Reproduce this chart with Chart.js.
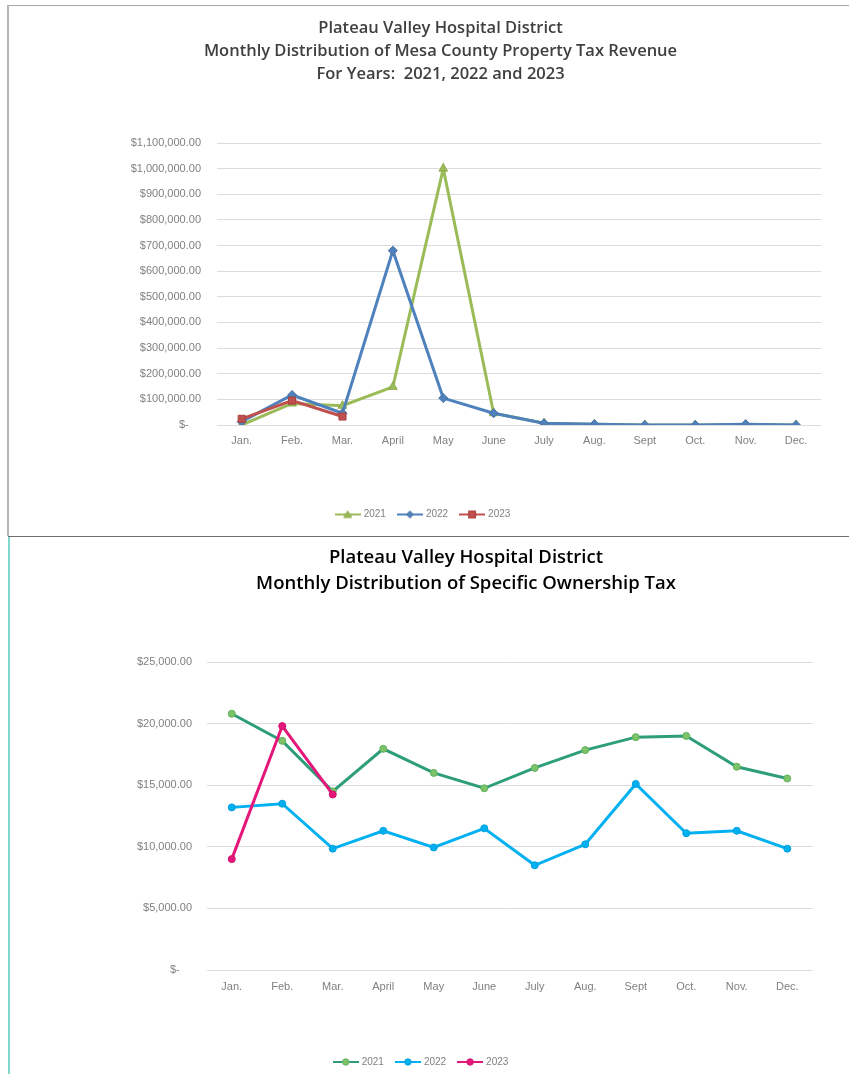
<!DOCTYPE html>
<html>
<head>
<meta charset="utf-8">
<title>Plateau Valley Hospital District - Tax Revenue</title>
<script src="https://cdn.jsdelivr.net/npm/chart.js@4.4.1/dist/chart.umd.min.js"></script>
<style>
  html, body { margin: 0; padding: 0; background: #fff; overflow: hidden; }
  body { width: 849px; height: 1074px; position: relative; }
  canvas { position: absolute; left: 0; }
  #topChart { top: 0; }
  #botChart { top: 537px; }
  .edge { position: absolute; }
  #topBorderTop { left: 8px; top: 5px; width: 841px; height: 1px; background: #a6a6a6; }
  #topBorderLeft { left: 7px; top: 5px; width: 2px; height: 531px; background: #b5b5b5; }
  #midLine { left: 8px; top: 536px; width: 841px; height: 1px; background: #6e6e6e; }
  #botBorderLeft { left: 8px; top: 537px; width: 2px; height: 537px; background: #7fd8cc; }
</style>
</head>
<body>
<div class="edge" id="topBorderTop"></div>
<div class="edge" id="topBorderLeft"></div>
<div class="edge" id="midLine"></div>
<div class="edge" id="botBorderLeft"></div>
<canvas id="topChart" width="849" height="536"></canvas>
<canvas id="botChart" width="849" height="540"></canvas>
<script>
// Data
const months = ['Jan.', 'Feb.', 'Mar.', 'April', 'May', 'June', 'July', 'Aug.', 'Sept', 'Oct.', 'Nov.', 'Dec.'];
const years = ['2021', '2022', '2023'];

// Mesa County property tax revenue
const property2021 = [0, 84000, 75000, 149000, 1000000, 46000, 7000, 3000, 0, 0, 1000, 0];
const property2022 = [13000, 117000, 46000, 680000, 105000, 46000, 7000, 3000, 0, 0, 3000, 0];
const property2023 = [24000, 95000, 33000];
const propertyTicks = { max: 1100000, step: 100000 };

// Specific ownership tax
const ownership2021 = [20800, 18600, 14500, 17950, 16000, 14750, 16400, 17850, 18900, 19000, 16500, 15550];
const ownership2022 = [13200, 13500, 9850, 11300, 9950, 11500, 8500, 10200, 15100, 11100, 11300, 9850];
const ownership2023 = [9000, 19800, 14250];
const ownershipTicks = { max: 25000, step: 5000 };

const tickFont = { family: 'Liberation Sans', size: 11 };
const tickColor = '#808080';
const gridColor = '#dcdcdc';
const legendFontSize = 10;
const legendPad = 13;

function money(v) {
    if (v === 0) return '$-    ';
    return '$' + Number(v).toLocaleString('en-US', { minimumFractionDigits: 2, maximumFractionDigits: 2 });
}

// small line + marker picture for the legend
function legendIcon(line, fill, stroke, shape) {
    const c = document.createElement('canvas');
    c.width = 26; c.height = 10;
    const g = c.getContext('2d');
    g.strokeStyle = line;
    g.lineWidth = 2;
    g.beginPath(); g.moveTo(0, 5); g.lineTo(26, 5); g.stroke();
    g.fillStyle = fill;
    g.strokeStyle = stroke;
    g.lineWidth = 1;
    g.beginPath();
    if (shape === 'triangle') {
        g.moveTo(13, 1.5); g.lineTo(17, 8); g.lineTo(9, 8); g.closePath();
    } else if (shape === 'rectRot') {
        g.moveTo(13, 1.5); g.lineTo(16.5, 5); g.lineTo(13, 8.5); g.lineTo(9.5, 5); g.closePath();
    } else if (shape === 'rect') {
        g.rect(9.5, 1.5, 7, 7);
    } else {
        g.arc(13, 5, 3.2, 0, Math.PI * 2);
    }
    g.fill(); g.stroke();
    return c;
}

function series(label, data, line, fill, stroke, shape, radius, order) {
    return {
        label: label,
        data: data,
        borderColor: line,
        backgroundColor: fill,
        pointBackgroundColor: fill,
        pointBorderColor: stroke,
        pointBorderWidth: 1,
        pointStyle: shape,
        pointRadius: radius,
        borderWidth: 3,
        tension: 0,
        order: order,
        icon: legendIcon(line, fill, stroke, shape)
    };
}

// move title and legend sideways after layout (they are not centred on the page)
const centerShift = {
    id: 'centerShift',
    afterLayout(chart, args, opts) {
        const t = chart.titleBlock;
        if (t) {
            const dx = opts.title - (t.left + t.right) / 2;
            t.left += dx; t.right += dx;
        }
        const lg = chart.legend;
        if (lg) {
            const dx = opts.legend - (lg.left + lg.right + legendPad) / 2;
            lg.left += dx; lg.right += dx;
        }
    }
};

function buildChart(id, cfg) {
    const H = cfg.height;
    const legendHeight = legendFontSize + legendPad + 10;
    const legendTop = H - cfg.bottomPad - legendHeight;
    return new Chart(document.getElementById(id), {
        type: 'line',
        data: { labels: months, datasets: cfg.datasets },
        plugins: [centerShift],
        options: {
            responsive: false,
            animation: false,
            layout: { padding: { left: 0, right: cfg.rightPad, top: 0, bottom: cfg.bottomPad } },
            scales: {
                x: {
                    offset: true,
                    grid: { display: false, drawTicks: false },
                    border: { display: false },
                    ticks: { color: tickColor, font: tickFont, padding: cfg.xPad, maxRotation: 0, autoSkip: false },
                    afterFit: s => { s.height = legendTop - cfg.plotBottom; }
                },
                y: {
                    min: 0,
                    max: cfg.ticks.max,
                    grid: { color: gridColor, lineWidth: 1, drawTicks: false },
                    border: { display: false },
                    ticks: { stepSize: cfg.ticks.step, color: tickColor, font: tickFont, padding: cfg.yPad, callback: money },
                    afterFit: s => { s.width = cfg.plotLeft; }
                }
            },
            plugins: {
                centerShift: { title: cfg.titleCenter, legend: cfg.legendCenter },
                title: {
                    display: true,
                    text: cfg.title,
                    color: cfg.titleColor,
                    font: { family: 'Open Sans', size: cfg.titleSize, weight: '600', lineHeight: cfg.titleLine },
                    padding: { top: cfg.titleTop, bottom: cfg.titleBottom }
                },
                legend: {
                    position: 'bottom',
                    labels: {
                        usePointStyle: true,
                        pointStyleWidth: 22,
                        padding: legendPad,
                        color: tickColor,
                        font: { family: 'Liberation Sans', size: legendFontSize },
                        generateLabels: chart => chart.data.datasets.map((ds, i) => ({
                            text: ds.label,
                            pointStyle: ds.icon,
                            fontColor: tickColor,
                            fillStyle: 'transparent',
                            strokeStyle: 'transparent',
                            lineWidth: 0,
                            hidden: false,
                            datasetIndex: i
                        }))
                    }
                },
                tooltip: { enabled: false }
            }
        }
    });
}

// Property tax chart
buildChart('topChart', {
    height: 536,
    title: ['Plateau Valley Hospital District', 'Monthly Distribution of Mesa County Property Tax Revenue', 'For Years:  2021, 2022 and 2023'],
    titleColor: '#404040',
    titleSize: 16.5,
    titleLine: 23 / 16.5,
    titleTop: 16.5,
    titleBottom: 57.5,
    titleCenter: 440.5,
    legendCenter: 430,
    plotLeft: 216.5,
    plotBottom: 425,
    rightPad: 27.8,
    bottomPad: 6.5,
    xPad: 9,
    yPad: 15.5,
    ticks: propertyTicks,
    datasets: [
        series(years[0], property2021, '#9bbb59', '#9bbb59', '#8aab4a', 'triangle', 5, 3),
        series(years[1], property2022, '#4f81bd', '#4f81bd', '#43709f', 'rectRot', 4.5, 2),
        series(years[2], property2023, '#c0504d', '#c0504d', '#a8413e', 'rect', 5, 1)
    ]
});

// Specific ownership tax chart
buildChart('botChart', {
    height: 540,
    title: ['Plateau Valley Hospital District', 'Monthly Distribution of Specific Ownership Tax'],
    titleColor: '#000000',
    titleSize: 18.5,
    titleLine: 26 / 18.5,
    titleTop: 8,
    titleBottom: 65,
    titleCenter: 466,
    legendCenter: 428,
    plotLeft: 206.5,
    plotBottom: 433,
    rightPad: 36.5,
    bottomPad: 0,
    xPad: 10,
    yPad: 14.5,
    ticks: ownershipTicks,
    datasets: [
        series(years[0], ownership2021, '#2e9e7a', '#7cc36a', '#5fb05a', 'circle', 3.5, 3),
        series(years[1], ownership2022, '#00b0f0', '#00b0f0', '#00a0dc', 'circle', 3.5, 2),
        series(years[2], ownership2023, '#e6177a', '#e6177a', '#d0106c', 'circle', 3.5, 1)
    ]
});
</script>
</body>
</html>
